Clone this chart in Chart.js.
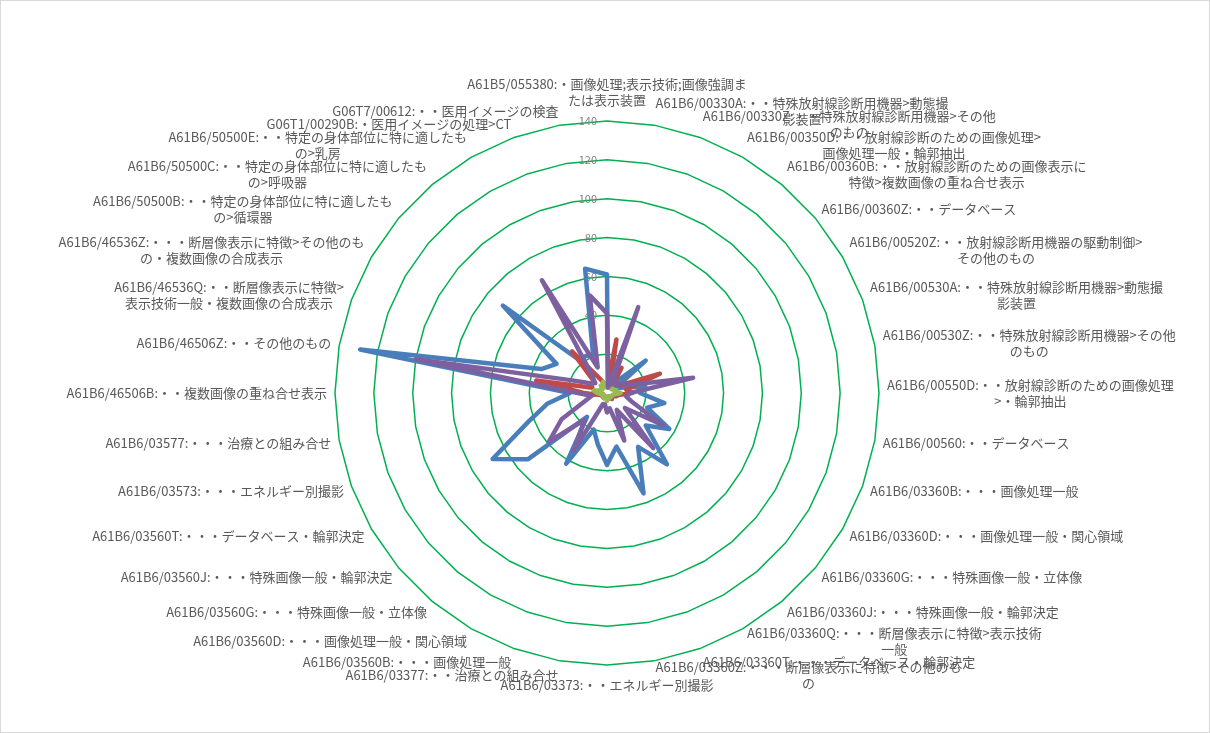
<!DOCTYPE html>
<html><head><meta charset="utf-8">
<script src="https://cdn.jsdelivr.net/npm/chart.js@4.4.1/dist/chart.umd.min.js"></script>
<style>html,body{margin:0;padding:0;background:#fff;}canvas{display:block;}</style>
</head><body>
<canvas id="c" width="1210" height="733"></canvas>
<script>
const categories = [
  ["A61B5/055380:・画像処理;表示技術;画像強調ま", "たは表示装置"],
  ["A61B6/00330A:・・特殊放射線診断用機器>動態撮", "影装置"],
  ["A61B6/00330Z:・・特殊放射線診断用機器>その他", "のもの"],
  ["A61B6/00350D:・・放射線診断のための画像処理>", "画像処理一般・輪郭抽出"],
  ["A61B6/00360B:・・放射線診断のための画像表示に", "特徴>複数画像の重ね合せ表示"],
  ["A61B6/00360Z:・・データベース"],
  ["A61B6/00520Z:・・放射線診断用機器の駆動制御>", "その他のもの"],
  ["A61B6/00530A:・・特殊放射線診断用機器>動態撮", "影装置"],
  ["A61B6/00530Z:・・特殊放射線診断用機器>その他", "のもの"],
  ["A61B6/00550D:・・放射線診断のための画像処理", ">・輪郭抽出"],
  ["A61B6/00560:・・データベース"],
  ["A61B6/03360B:・・・画像処理一般"],
  ["A61B6/03360D:・・・画像処理一般・関心領域"],
  ["A61B6/03360G:・・・特殊画像一般・立体像"],
  ["A61B6/03360J:・・・特殊画像一般・輪郭決定"],
  ["A61B6/03360Q:・・・断層像表示に特徴>表示技術", "一般"],
  ["A61B6/03360T:・・・データベース・輪郭決定"],
  ["A61B6/03360Z:・・・断層像表示に特徴>その他のも", "の"],
  ["A61B6/03373:・・エネルギー別撮影"],
  ["A61B6/03377:・・治療との組み合せ"],
  ["A61B6/03560B:・・・画像処理一般"],
  ["A61B6/03560D:・・・画像処理一般・関心領域"],
  ["A61B6/03560G:・・・特殊画像一般・立体像"],
  ["A61B6/03560J:・・・特殊画像一般・輪郭決定"],
  ["A61B6/03560T:・・・データベース・輪郭決定"],
  ["A61B6/03573:・・・エネルギー別撮影"],
  ["A61B6/03577:・・・治療との組み合せ"],
  ["A61B6/46506B:・・複数画像の重ね合せ表示"],
  ["A61B6/46506Z:・・その他のもの"],
  ["A61B6/46536Q:・・断層像表示に特徴>", "表示技術一般・複数画像の合成表示"],
  ["A61B6/46536Z:・・・断層像表示に特徴>その他のも", "の・複数画像の合成表示"],
  ["A61B6/50500B:・・特定の身体部位に特に適したも", "の>循環器"],
  ["A61B6/50500C:・・特定の身体部位に特に適したも", "の>呼吸器"],
  ["A61B6/50500E:・・特定の身体部位に特に適したも", "の>乳房"],
  ["G06T1/00290B:・医用イメージの処理>CT"],
  ["G06T7/00612:・・医用イメージの検査"]
];
const tickLabels = [0, 20, 40, 60, 80, 100, 120, 140];

const seriesBlue   = [61, 3, 3, 5, 8, 26, 5, 8, 20, 17, 30, 22, 37, 26, 48, 32, 55, 28, 37, 27, 20, 42, 16, 53, 68, 43, 31, 19, 129, 36, 30, 70, 22, 22, 21, 65];
const seriesRed    = [3, 28, 5, 15, 4, 6, 8, 29, 10, 13, 6, 5, 3, 3, 4, 3, 3, 2, 3, 2, 2, 3, 3, 2, 3, 2, 5, 12, 37, 8, 10, 8, 28, 10, 6, 4];
const seriesGreen  = [4, 8, 6, 5, 4, 3, 4, 5, 4, 7, 4, 3, 3, 3, 2, 3, 2, 3, 4, 3, 2, 3, 2, 3, 2, 2, 3, 5, 7, 4, 3, 3, 5, 4, 6, 3];
const seriesPurple = [41, 3, 47, 5, 8, 6, 10, 12, 45, 12, 10, 14, 33, 12, 37, 10, 26, 8, 10, 6, 6, 34, 18, 39, 27, 12, 8, 15, 100, 19, 10, 8, 12, 67, 14, 51];

const labelPlugin = {
  id: 'customLabels',
  beforeDatasetsDraw(chart) {
    const s = chart.scales.r, ctx = chart.ctx;
    ctx.save();
    ctx.font = '11px "Noto Sans CJK JP", "Noto Sans", sans-serif';
    ctx.fillStyle = '#808080';
    ctx.textAlign = 'right';
    ctx.textBaseline = 'middle';
    tickLabels.forEach(v => {
      const d = s.getDistanceFromCenterForValue(v);
      ctx.fillText(String(v), s.xCenter - 10, s.yCenter - d);
    });
    ctx.restore();
  },
  afterDatasetsDraw(chart) {
    const s = chart.scales.r, ctx = chart.ctx;
    const n = categories.length, lh = 16;
    ctx.save();
    ctx.font = '13px "Noto Sans CJK JP", "Noto Sans", sans-serif';
    ctx.fillStyle = '#595959';
    ctx.textAlign = 'center';
    ctx.textBaseline = 'middle';
    for (let i = 0; i < n; i++) {
      const lines = categories[i];
      const ang = i * 360 / n;
      const rad = ang * Math.PI / 180;
      const p = s.getPointPosition(i, s.drawingArea + 8);
      let w = 0;
      lines.forEach(l => { w = Math.max(w, ctx.measureText(l).width); });
      const h = lines.length * lh;
      let cx, cy;
      if (Math.abs(ang) < 0.01) { cx = p.x; cy = p.y - 5 - h / 2; }
      else if (Math.abs(ang - 180) < 0.01) { cx = p.x; cy = p.y + 4 + h / 2; }
      else {
        cx = ang < 180 ? p.x + w / 2 : p.x - w / 2;
        cy = p.y - 6 * Math.cos(rad);
      }
      lines.forEach((l, k) => ctx.fillText(l, cx, cy - h / 2 + lh / 2 + k * lh));
    }
    ctx.restore();
    ctx.save();
    ctx.strokeStyle = '#D9D9D9';
    ctx.lineWidth = 1;
    ctx.strokeRect(0.5, 0.5, chart.width - 1, chart.height - 1);
    ctx.restore();
  }
};

const R = 272, CX = 607, CY = 393;
new Chart(document.getElementById('c'), {
  type: 'radar',
  data: {
    labels: categories,
    datasets: [
      { label: 'S1', data: seriesBlue, borderColor: '#4A7EBB', order: 3 },
      { label: 'S2', data: seriesRed, borderColor: '#BE4B48', order: 2 },
      { label: 'S3', data: seriesGreen, borderColor: '#98B954', order: 1 },
      { label: 'S4', data: seriesPurple, borderColor: '#7D60A0', order: 0 }
    ]
  },
  options: {
    responsive: false,
    animation: false,
    devicePixelRatio: 1,
    layout: { padding: { left: CX - R, right: 1210 - CX - R, top: CY - R, bottom: 733 - CY - R } },
    elements: {
      line: { borderWidth: 4.5, tension: 0, fill: false, borderJoinStyle: 'round', borderCapStyle: 'round' },
      point: { radius: 0, hoverRadius: 0 }
    },
    plugins: { legend: { display: false }, tooltip: { enabled: false }, title: { display: false } },
    scales: {
      r: {
        min: 0, max: 140,
        ticks: { stepSize: 20, display: false },
        grid: { color: '#00B050', lineWidth: 1.5 },
        angleLines: { display: false },
        pointLabels: { display: false }
      }
    }
  },
  plugins: [labelPlugin]
});
</script>
</body></html>
